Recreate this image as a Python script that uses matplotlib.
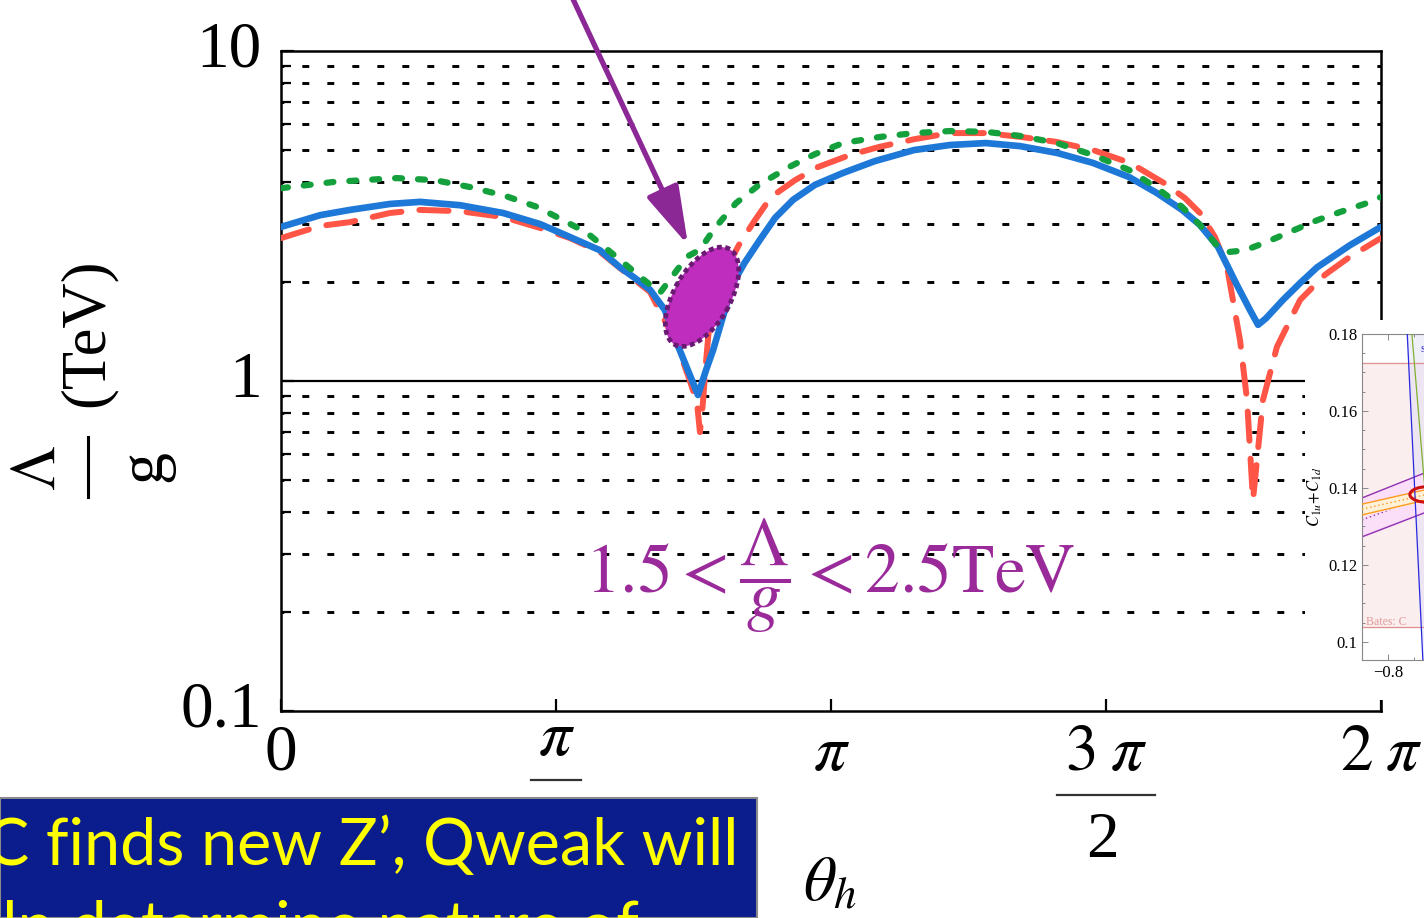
import numpy as np
import matplotlib
matplotlib.use('Agg')
import matplotlib.pyplot as plt
from matplotlib.patches import Ellipse, Rectangle
import matplotlib.transforms as mtransforms

plt.rcParams['mathtext.fontset'] = 'stix'
plt.rcParams['font.family'] = ['Liberation Serif', 'DejaVu Serif']
plt.rcParams['lines.scale_dashes'] = False

# ---------------- data ----------------
theta_blue = [0.000, 0.223, 0.394, 0.623, 0.794, 1.022, 1.268, 1.479, 1.651, 1.822, 1.936,
              2.022, 2.108, 2.193, 2.262, 2.336, 2.382, 2.428, 2.468, 2.525, 2.582, 2.650,
              2.736, 2.822, 2.925, 3.050, 3.210, 3.393, 3.616, 3.821, 4.027, 4.221, 4.433,
              4.638, 4.844, 5.004, 5.147, 5.249, 5.352, 5.461, 5.535, 5.581, 5.627, 5.723,
              5.821, 5.918, 6.106, 6.283]
lam_blue = [2.93, 3.18, 3.30, 3.44, 3.49, 3.41, 3.23, 2.99, 2.73, 2.49, 2.21,
            2.05, 1.89, 1.64, 1.30, 1.04, 0.907, 1.08, 1.24, 1.57, 1.98, 2.29,
            2.68, 3.12, 3.54, 3.93, 4.27, 4.64, 5.01, 5.19, 5.26, 5.15, 4.91,
            4.58, 4.15, 3.71, 3.30, 2.97, 2.55, 1.95, 1.64, 1.48, 1.55, 1.76,
            1.98, 2.21, 2.58, 2.93]

theta_red = [0.000, 0.223, 0.394, 0.623, 0.794, 1.022, 1.268, 1.479, 1.651, 1.822, 1.936,
             2.108, 2.262, 2.336, 2.376, 2.393, 2.410, 2.428, 2.450, 2.508, 2.622, 2.707,
             2.799, 2.936, 3.067, 3.250, 3.416, 3.621, 3.821, 4.021, 4.227, 4.433, 4.638,
             4.850, 5.044, 5.164, 5.249, 5.335, 5.404, 5.478, 5.518, 5.552, 5.609, 5.689,
             5.821, 5.964, 6.106, 6.283]
lam_red = [2.71, 2.95, 3.03, 3.23, 3.30, 3.27, 3.14, 2.91, 2.71, 2.46, 2.20,
           1.86, 1.29, 1.00, 0.86, 0.70, 0.86, 1.15, 1.55, 2.02, 2.62, 3.07,
           3.61, 4.06, 4.45, 4.84, 5.12, 5.41, 5.64, 5.64, 5.49, 5.30, 5.01,
           4.58, 3.98, 3.58, 3.23, 2.73, 2.21, 1.33, 0.876, 0.436, 0.876, 1.27,
           1.76, 2.10, 2.38, 2.71]

theta_green = [0.000, 0.300, 0.663, 0.880, 1.080, 1.280, 1.462, 1.622, 1.748, 1.936, 2.051,
               2.165, 2.319, 2.393, 2.479, 2.599, 2.736, 2.902, 3.050, 3.210, 3.422, 3.616,
               3.821, 4.027, 4.221, 4.433, 4.638, 4.844, 5.004, 5.147, 5.249, 5.352, 5.415,
               5.507, 5.632, 5.763, 5.918, 6.049, 6.203, 6.283]
lam_green = [3.84, 4.01, 4.12, 4.06, 3.87, 3.64, 3.37, 3.05, 2.81, 2.33, 2.07,
             1.85, 2.38, 2.50, 2.91, 3.46, 3.95, 4.45, 4.87, 5.26, 5.49, 5.64,
             5.72, 5.69, 5.53, 5.26, 4.84, 4.36, 3.84, 3.37, 2.97, 2.55, 2.46,
             2.49, 2.64, 2.83, 3.07, 3.25, 3.46, 3.61]

grid_levels = [0.2, 0.3, 0.4, 0.5, 0.6, 0.7, 0.8, 0.9, 2, 3, 4, 5, 6, 7, 8, 9]
ytick_vals = [0.1, 1, 10]
ytick_labels = ['0.1', '1', '10']

# highlighted region (ellipse) and arrow
ell_center = (2.405, 1.80)
arrow_tip = (2.325, 2.58)
arrow_tail = (1.6565, 14.8)

# inset data
inset_band = [0.1039, 0.1725]
inset_blue_x = [-0.763, -0.733]
inset_blue_y = [0.18, 0.0953]
inset_green_x = [-0.754, -0.717]
inset_green_y = [0.18, 0.12]
inset_x = [-0.85, -0.70]
inset_purple_hi = [0.1374, 0.1455]
inset_purple_lo = [0.1273, 0.1351]
inset_purple_mid = [0.1317, 0.1392]
inset_orange_hi = [0.1358, 0.1404]
inset_orange_lo = [0.1330, 0.1377]
inset_orange_mid = [0.1345, 0.1391]
inset_yticks = [0.10, 0.12, 0.14, 0.16, 0.18]
inset_ytick_labels = ['0.1', '0.12', '0.14', '0.16', '0.18']
inset_xticks = [-0.8]
inset_xtick_labels = ['\u22120.8']

# ---------------- figure ----------------
W, H = 1424, 918
fig = plt.figure(figsize=(W / 100, H / 100), dpi=100)
fig.patch.set_facecolor('white')

def fx(px):
    return px / W

def fy(py):
    return 1 - py / H

ax = fig.add_axes([fx(281), fy(711), 1100 / W, 660 / H])
ax.set_yscale('log')
ax.set_xlim(0, 2 * np.pi)
ax.set_ylim(0.1, 10)

for s in ax.spines.values():
    s.set_linewidth(1.8)
    s.set_color('black')

ax.set_xticks([0, np.pi / 2, np.pi, 3 * np.pi / 2, 2 * np.pi])
ax.set_xticklabels([])
ax.set_yticks(ytick_vals)
ax.set_yticklabels([])
ax.yaxis.set_minor_locator(matplotlib.ticker.FixedLocator(grid_levels))
ax.yaxis.set_minor_formatter(matplotlib.ticker.NullFormatter())
ax.tick_params(axis='both', which='major', direction='in', length=9, width=1.6,
               top=False, right=False)
ax.tick_params(axis='y', which='minor', direction='in', length=7, width=1.6, right=False)

for g in grid_levels:
    ax.axhline(g, color='black', lw=2.1, linestyle=(3, (5, 13)), zorder=1)
ax.axhline(1, color='black', lw=1.6, zorder=1)

ax.plot(theta_red, lam_red, color='#ff5546', lw=4.3, linestyle=(0, (21, 13)),
        dash_capstyle='round', solid_joinstyle='round', zorder=3)
ax.plot(theta_blue, lam_blue, color='#1e78d7', lw=4.8, solid_joinstyle='round',
        solid_capstyle='round', zorder=4)
ax.plot(theta_green, lam_green, color='#14a03c', lw=4.5, linestyle=(0, (5, 11.5)),
        dash_capstyle='round', zorder=5)

# ellipse region (sized in inches around a data point)
trans = fig.dpi_scale_trans + mtransforms.ScaledTranslation(ell_center[0], ell_center[1], ax.transData)
ell = Ellipse((0, 0), width=1.10, height=0.56, angle=60, transform=trans,
              facecolor='#be2dbe', edgecolor='#6a1a72', lw=3.4, linestyle=(0, (3.5, 2.5)),
              zorder=6, clip_on=False)
ax.add_patch(ell)

ax.annotate('', xy=arrow_tip, xytext=arrow_tail, xycoords='data', textcoords='data',
            arrowprops=dict(arrowstyle='-|>,head_length=0.9,head_width=0.26',
                            color='#8c2896', lw=3.8, mutation_scale=40,
                            shrinkA=0, shrinkB=0),
            annotation_clip=False, zorder=7)

# purple inequality text
ax.text(3.136, 0.258, r'$1.5<\dfrac{\Lambda}{g}<2.5\mathrm{TeV}$', color='#9a2a9a',
        fontsize=50, ha='center', va='center', zorder=8)

# y tick labels (manual)
ytr = ax.get_yaxis_transform()
for v, lab in zip(ytick_vals, ytick_labels):
    ax.text(-19 / 1100, v, lab, transform=ytr, ha='right', va='center', fontsize=47,
            clip_on=False)

# x tick labels (manual, Mathematica-style fractions)
xtr = ax.get_xaxis_transform()

def ya(py):
    return (711 - py) / 660

ax.text(0, ya(770), '0', transform=xtr, ha='center', va='baseline', fontsize=47, clip_on=False)
ax.text(np.pi / 2, ya(755), r'$\pi$', transform=xtr, ha='center', va='baseline', fontsize=47, clip_on=False)
ax.plot([np.pi / 2 - 0.14, np.pi / 2 + 0.14], [ya(780), ya(780)], transform=xtr,
        color='#333333', lw=1.6, clip_on=False)
ax.text(np.pi, ya(770), r'$\pi$', transform=xtr, ha='center', va='baseline', fontsize=47, clip_on=False)
ax.text(3 * np.pi / 2, ya(770), r'$3\;\pi$', transform=xtr, ha='center', va='baseline', fontsize=47, clip_on=False)
ax.plot([3 * np.pi / 2 - 0.28, 3 * np.pi / 2 + 0.28], [ya(795), ya(795)], transform=xtr,
        color='#333333', lw=1.6, clip_on=False)
ax.text(3 * np.pi / 2 - 0.02, ya(857), '2', transform=xtr, ha='center', va='baseline', fontsize=47, clip_on=False)
ax.text(2 * np.pi, ya(770), r'$2\;\pi$', transform=xtr, ha='center', va='baseline', fontsize=47, clip_on=False)

# axis labels
fig.text(fx(830), fy(885), r'$\theta_h$', fontsize=46, ha='center', va='center')
fig.text(fx(88), fy(333), '(TeV)', fontsize=45, rotation=90, ha='center', va='center')
fig.text(fx(40), fy(468), r'$\Lambda$', fontsize=46, rotation=90, ha='center', va='center')
fig.text(fx(145), fy(466), 'g', fontsize=46, rotation=90, ha='center', va='center')
fig.add_artist(plt.Line2D([fx(88), fx(88)], [fy(437), fy(497)], transform=fig.transFigure,
                          color='black', lw=2.2))

# white patch under the inset
fig.patches.append(Rectangle((fx(1305), fy(700)), (W - 1305) / W, (700 - 320) / H,
                             transform=fig.transFigure, facecolor='white',
                             edgecolor='none', zorder=1))

# ---------------- inset ----------------
ax2 = fig.add_axes([fx(1362), fy(660), 400 / W, (660 - 334) / H], zorder=2)
ax2.set_xlim(-0.85, -0.081)
ax2.set_ylim(0.0953, 0.18)
ax2.axhspan(inset_band[0], inset_band[1], color='#fbeeee', zorder=0)
for yb in inset_band:
    ax2.axhline(yb, color='#e09090', lw=0.9, zorder=1)
ax2.fill_betweenx(inset_blue_y, inset_blue_x, [0, 0], color='#dcdcf5', alpha=0.45, zorder=0.5)
ax2.fill_between(inset_x, inset_purple_lo, inset_purple_hi, color='#fbdff8', zorder=1)
ax2.plot(inset_x, inset_purple_hi, color='#9030b0', lw=1.0, zorder=2)
ax2.plot(inset_x, inset_purple_lo, color='#9030b0', lw=1.0, zorder=2)
ax2.plot(inset_x, inset_purple_mid, color='#9030b0', lw=1.0, linestyle=(0, (1, 2)), zorder=2)
ax2.fill_between(inset_x, inset_orange_lo, inset_orange_hi, color='#fff1d8', zorder=2)
ax2.plot(inset_x, inset_orange_hi, color='#ff9a20', lw=1.0, zorder=3)
ax2.plot(inset_x, inset_orange_lo, color='#ff9a20', lw=1.0, zorder=3)
ax2.plot(inset_x, inset_orange_mid, color='#ff9a20', lw=1.0, linestyle=(0, (1, 2)), zorder=3)
ax2.plot(inset_blue_x, inset_blue_y, color='#2828e0', lw=0.9, zorder=4)
ax2.plot(inset_green_x, inset_green_y, color='#80b030', lw=0.9, zorder=4)
ax2.add_patch(Ellipse((-0.72, 0.1383), 0.076, 0.0042, facecolor='none', edgecolor='#cc1010',
                      lw=2.2, zorder=5))
ax2.text(-0.842, 0.1044, 'Bates: C', color='#e09a9a', fontsize=8.5, va='baseline', ha='left')
ax2.text(-0.737, 0.1752, 's', color='#2828e0', fontsize=9, va='baseline', ha='left')
ax2.set_yticks(inset_yticks)
ax2.set_yticklabels(inset_ytick_labels, fontsize=12)
ax2.set_xticks(inset_xticks)
ax2.set_xticklabels(inset_xtick_labels, fontsize=12)
ax2.yaxis.set_minor_locator(matplotlib.ticker.MultipleLocator(0.005))
ax2.xaxis.set_minor_locator(matplotlib.ticker.MultipleLocator(0.05))
ax2.tick_params(which='both', direction='in', top=True, right=True, color='#888888', width=0.7)
ax2.tick_params(which='major', length=4)
ax2.tick_params(which='minor', length=2)
for s in ax2.spines.values():
    s.set_color('#888888')
    s.set_linewidth(0.8)
ax2.set_ylabel(r'$C_{1u}\!+\!C_{1d}$', fontsize=12, labelpad=3)

# ---------------- blue text box ----------------
fig.patches.append(Rectangle((0, 0), 757 / W, (918 - 798) / H, transform=fig.transFigure,
                             facecolor='#0b1c8c', edgecolor='#8a8a8a', lw=1.5, zorder=3))
renderer = fig.canvas.get_renderer()
line1 = 'C finds new Z\u2019, Qweak will'
t1 = fig.text(fx(738), fy(865), line1, color='#ffff00', fontsize=50, family='Lato',
              ha='right', va='baseline', zorder=4)
bb = t1.get_window_extent(renderer)
target = 738 + 15
if bb.width > target:
    t1.set_fontsize(50 * target / bb.width)
fs = t1.get_fontsize()
line2 = 'help determine nature of'
probe = fig.text(0, 0, 'he', fontsize=fs, family='Lato')
wprobe = probe.get_window_extent(renderer).width
probe.remove()
fig.text(fx(2 - wprobe), fy(948), line2, color='#ffff00', fontsize=fs, family='Lato',
         ha='left', va='baseline', zorder=4)

fig.savefig('out.png', dpi=100)
